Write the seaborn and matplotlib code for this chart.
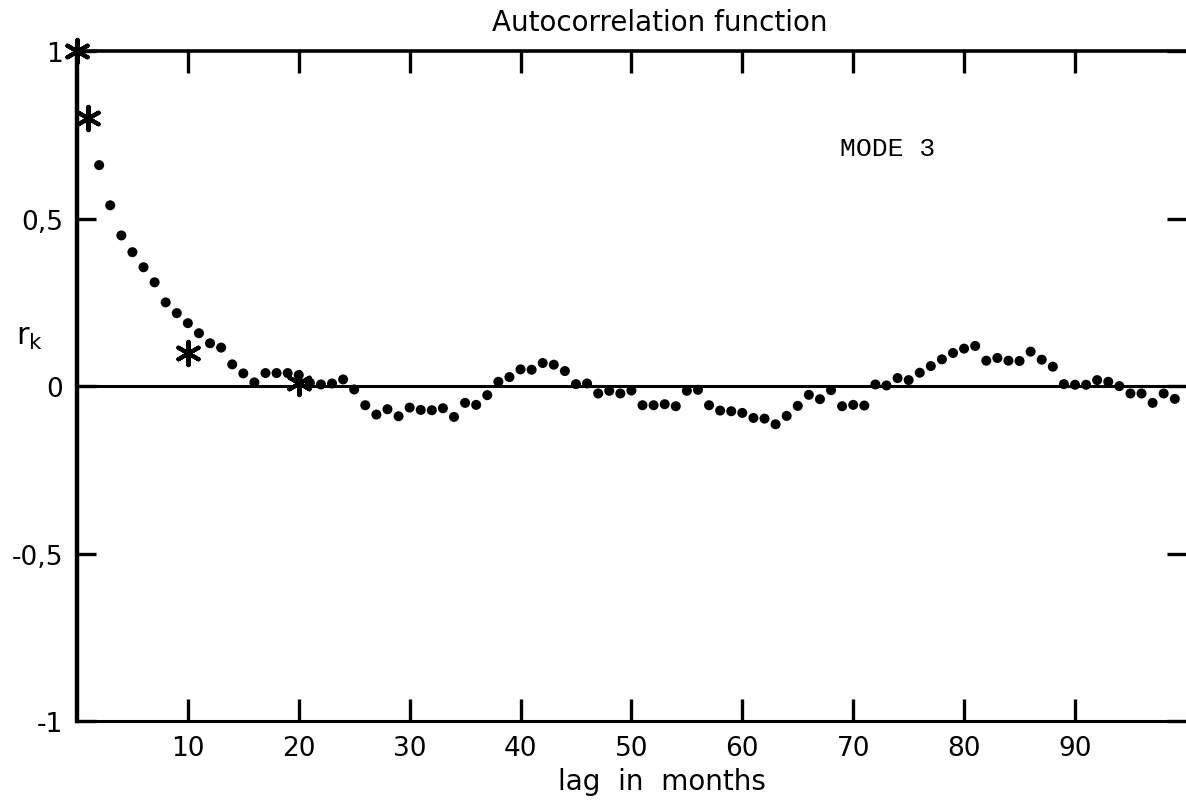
import matplotlib
matplotlib.use("Agg")
import matplotlib.pyplot as plt
import seaborn as sns
import pandas as pd

# ---- data ----
lags = list(range(2, 100))
acf_values = [
    0.66, 0.54, 0.45, 0.40, 0.355, 0.31, 0.25, 0.218,            # 2-9
    0.188, 0.158, 0.128, 0.115, 0.065, 0.038, 0.011, 0.039, 0.039, 0.039,  # 10-19
    0.033, 0.010, 0.005, 0.008, 0.020, -0.010, -0.057, -0.085, -0.069, -0.090,  # 20-29
    -0.064, -0.071, -0.072, -0.066, -0.092, -0.050, -0.056, -0.027, 0.013, 0.027,  # 30-39
    0.050, 0.049, 0.069, 0.064, 0.045, 0.006, 0.008, -0.022, -0.014, -0.022,  # 40-49
    -0.013, -0.057, -0.057, -0.054, -0.060, -0.014, -0.011, -0.057, -0.073, -0.075,  # 50-59
    -0.080, -0.095, -0.097, -0.114, -0.089, -0.059, -0.026, -0.039, -0.012, -0.060,  # 60-69
    -0.056, -0.058, 0.005, 0.002, 0.024, 0.018, 0.040, 0.060, 0.080, 0.099,  # 70-79
    0.112, 0.120, 0.076, 0.084, 0.076, 0.075, 0.103, 0.079, 0.058, 0.006,  # 80-89
    0.004, 0.004, 0.018, 0.013, 0.000, -0.022, -0.022, -0.050, -0.022, -0.038,  # 90-99
]
star_lags = [0, 1, 10, 20]
star_values = [1.0, 0.80, 0.10, 0.01]

xtick_values = [10, 20, 30, 40, 50, 60, 70, 80, 90]
xtick_labels = ["10", "20", "30", "40", "50", "60", "70", "80", "90"]
ytick_values = [-1, -0.5, 0, 0.5, 1]
ytick_labels = ["-1", "-0,5", "0", "0,5", "1"]

title_text = "Autocorrelation function"
xlabel_text = "lag  in  months"
annot_text = "MODE 3"

dots = pd.DataFrame({"lag": lags, "r": acf_values})
stars = pd.DataFrame({"lag": star_lags, "r": star_values})

sns.set_style("white")
plt.rcParams['font.family'] = ['DejaVu Sans']
plt.rcParams['text.color'] = 'black'
plt.rcParams['axes.labelcolor'] = 'black'
plt.rcParams['xtick.color'] = 'black'
plt.rcParams['ytick.color'] = 'black'

fig = plt.figure(figsize=(11.86, 8.04), dpi=100)
ax = fig.add_axes([0.0649, 0.102, 0.935, 0.833])

ax.axhline(0, color="black", lw=2.2, zorder=1)

sns.scatterplot(data=dots, x="lag", y="r", ax=ax, color="black",
                s=52, edgecolor="none", marker="o", zorder=3, legend=False)
sns.scatterplot(data=stars, x="lag", y="r", ax=ax, color="black",
                edgecolor="black", marker=(6, 2, 0), s=280, linewidth=3.0,
                zorder=4, clip_on=False, legend=False)

ax.set_xlim(0, 100)
ax.set_ylim(-1, 1)

for side in ["left", "top", "bottom"]:
    ax.spines[side].set_visible(True)
    ax.spines[side].set_color("black")
ax.spines["left"].set_linewidth(3.2)
ax.spines["top"].set_linewidth(2.6)
ax.spines["bottom"].set_linewidth(2.2)
ax.spines["right"].set_visible(False)

ax.set_xticks(xtick_values, xtick_labels)
ax.tick_params(axis="x", top=True, bottom=True, labeltop=False,
               direction="in", length=16, width=2.4, labelsize=19, pad=10,
               colors="black")
ax.set_yticks(ytick_values, ytick_labels)
ax.tick_params(axis="y", left=True, right=True, direction="in",
               length=14, width=2.4, labelsize=19, pad=10, colors="black")

ax.set_xlabel("")
ax.set_ylabel("")

fig.text(660 / 1186, 1 - 23 / 804, title_text, fontsize=20,
         ha="center", va="center", color="black")
fig.text(662 / 1186, 1 - 782 / 804, xlabel_text, fontsize=20,
         ha="center", va="center", color="black")
fig.text(30 / 1186, 1 - 338 / 804, r"$\mathregular{r_k}$", fontsize=22,
         ha="center", va="center", color="black")
ax.text(68.8, 0.71, annot_text, fontsize=19, family="Liberation Mono",
        ha="left", va="center", color="black")

fig.savefig("out.png", dpi=100)
